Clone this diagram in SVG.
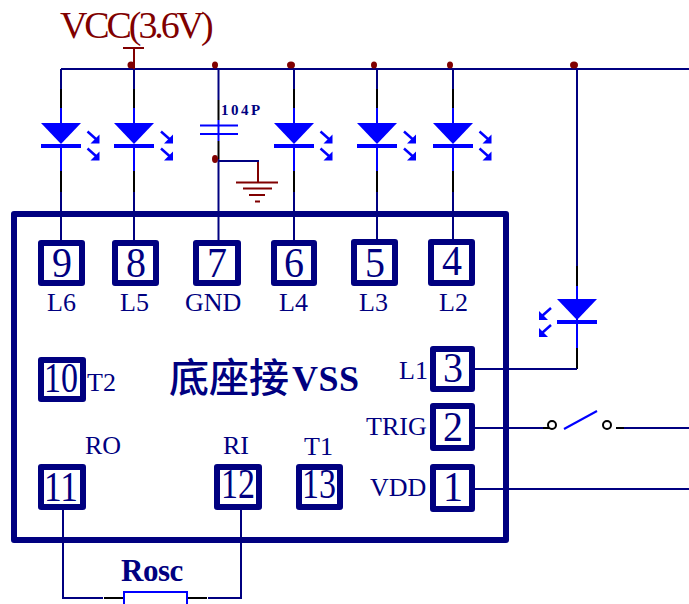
<svg xmlns="http://www.w3.org/2000/svg" xmlns:xlink="http://www.w3.org/1999/xlink" width="689" height="604" viewBox="0 0 689 604">
<style>
text{font-family:"Liberation Serif","Times New Roman",serif;fill:#000080}
.w{fill:none;stroke:#000080;stroke-width:2}
.k{fill:none;stroke:#000;stroke-width:2}
.b{fill:none;stroke:#0000ff;stroke-width:2}
.r{fill:none;stroke:#800000;stroke-width:2}
.box{fill:#fff;stroke:#000080;stroke-width:6;stroke-linejoin:round}
.num{font-size:42px;text-anchor:start}
.lab{font-size:26px}
.dot{fill:#800000}
</style>
<defs>
<g id="led">
<path d="M0,0V20" class="w"/><path d="M0,20V39" class="k"/><path d="M0,39V54" class="b"/>
<path d="M-20,54H20L0,75Z" fill="#0000ff"/>
<rect x="-20" y="75" width="40" height="4" fill="#0000ff"/>
<path d="M0,76V102" class="b"/><path d="M0,102V123" class="k"/><path d="M0,123V171" class="w"/>
</g>
<g id="arr">
<path d="M0,0L9,8" fill="none" stroke="#0000ff" stroke-width="2.500"/>
<path d="M12,3V12H3Z" fill="#0000ff"/>
</g>
</defs>
<g id="connectors">
<path d="M61,69H689" class="w"/>
<use xlink:href="#led" href="#led" x="61" y="69"/>
<use xlink:href="#led" href="#led" x="134" y="69"/>
<use xlink:href="#led" href="#led" x="294" y="69"/>
<use xlink:href="#led" href="#led" x="377" y="69"/>
<use xlink:href="#led" href="#led" x="453" y="69"/>
<path d="M218.500,69V100" class="w"/><path d="M218.500,100V120" class="k"/><path d="M218.500,120V141" class="b"/><path d="M218.500,141V159" class="k"/><path d="M218.500,159V240" class="w"/>
<path d="M218,161H258V163" class="w"/>
<path d="M577,69V266" class="w"/><path d="M577,266V286" class="k"/><path d="M577,286V348" class="b"/><path d="M577,348V369" class="k"/>
<path d="M475,369H577" class="w"/>
<path d="M475,428H543" class="w"/><path d="M543,428H549" class="k"/><path d="M616,428H624" class="k"/><path d="M624,428H689" class="w"/>
<path d="M475,489H689" class="w"/>
<path d="M63,510V598H103" class="w"/><path d="M104,598H124" class="k"/><path d="M187,598H207" class="k"/><path d="M208,598H241V510" class="w"/>
</g>
<g id="chip">
<rect x="14" y="214" width="492" height="326" fill="none" stroke="#000080" stroke-width="6" stroke-linejoin="round"/>
<text x="169" y="392" font-size="40" font-weight="500" style="font-family:'Noto Sans CJK SC',sans-serif">底座接</text>
<text x="292" y="391" font-size="36" font-weight="bold" letter-spacing="0.500">VSS</text>
</g>
<g id="pin9"><rect x="41" y="243" width="41" height="40" class="box"/><text x="52" y="277" class="num" textLength="20" lengthAdjust="spacingAndGlyphs">9</text><text x="47" y="311" class="lab">L6</text></g>
<g id="pin8"><rect x="115" y="243" width="41" height="40" class="box"/><text x="126" y="277" class="num" textLength="20" lengthAdjust="spacingAndGlyphs">8</text><text x="120" y="311" class="lab">L5</text></g>
<g id="pin7"><rect x="196" y="243" width="42" height="40" class="box"/><text x="207" y="277" class="num" textLength="20" lengthAdjust="spacingAndGlyphs">7</text><text x="185" y="311" class="lab">GND</text></g>
<g id="pin6"><rect x="274" y="243" width="40" height="40" class="box"/><text x="284" y="277" class="num" textLength="20" lengthAdjust="spacingAndGlyphs">6</text><text x="279" y="311" class="lab">L4</text></g>
<g id="pin5"><rect x="354" y="242" width="41" height="41" class="box"/><text x="365" y="277" class="num" textLength="20" lengthAdjust="spacingAndGlyphs">5</text><text x="359" y="311" class="lab">L3</text></g>
<g id="pin4"><rect x="431" y="242" width="41" height="41" class="box"/><text x="442" y="275" class="num" textLength="20" lengthAdjust="spacingAndGlyphs">4</text><text x="439" y="311" class="lab">L2</text></g>
<g id="pin3"><rect x="433" y="349" width="39" height="40" class="box"/><text x="443" y="382" class="num" textLength="20" lengthAdjust="spacingAndGlyphs">3</text><text x="399" y="379" class="lab">L1</text></g>
<g id="pin2"><rect x="433" y="406" width="39" height="42" class="box"/><text x="443" y="441" class="num" textLength="20" lengthAdjust="spacingAndGlyphs">2</text><text x="366" y="435" class="lab">TRIG</text></g>
<g id="pin1"><rect x="433" y="467" width="39" height="42" class="box"/><text x="443" y="501" class="num" textLength="20" lengthAdjust="spacingAndGlyphs">1</text><text x="370" y="496" class="lab">VDD</text></g>
<g id="pin10"><rect x="41" y="360" width="42" height="39" class="box"/><text x="44" y="392" class="num" textLength="34" lengthAdjust="spacingAndGlyphs">10</text><text x="87" y="391" class="lab">T2</text></g>
<g id="pin11"><rect x="41" y="467" width="42" height="40" class="box"/><text x="44" y="501" class="num" textLength="34" lengthAdjust="spacingAndGlyphs">11</text><text x="85" y="454" class="lab">RO</text></g>
<g id="pin12"><rect x="217" y="467" width="42" height="40" class="box"/><text x="221" y="498" class="num" textLength="34" lengthAdjust="spacingAndGlyphs">12</text><text x="223" y="454" class="lab">RI</text></g>
<g id="pin13"><rect x="299" y="467" width="41" height="40" class="box"/><text x="302" y="498" class="num" textLength="34" lengthAdjust="spacingAndGlyphs">13</text><text x="304" y="455" class="lab">T1</text></g>
<g id="vcc">
<path d="M123,48H144M134,48V69" class="r"/>
<text x="60" y="38" font-size="38" letter-spacing="-3.100" style="fill:#800000">VCC(3.6V)</text>
<ellipse cx="131" cy="65" rx="3.500" ry="3.500" class="dot"/>
<ellipse cx="215" cy="65" rx="3" ry="3.500" class="dot"/>
<ellipse cx="291" cy="65" rx="4" ry="3.500" class="dot"/>
<ellipse cx="374" cy="65" rx="3" ry="3.500" class="dot"/>
<ellipse cx="450" cy="65" rx="3" ry="3.500" class="dot"/>
<ellipse cx="574" cy="65" rx="4" ry="3.500" class="dot"/>
</g>
<g id="led-arrows">
<use xlink:href="#arr" href="#arr" x="87.500" y="131.500"/><use xlink:href="#arr" href="#arr" x="87.500" y="148.500"/>
<use xlink:href="#arr" href="#arr" x="161" y="131.500"/><use xlink:href="#arr" href="#arr" x="161" y="148.500"/>
<use xlink:href="#arr" href="#arr" x="320.500" y="131.500"/><use xlink:href="#arr" href="#arr" x="320.500" y="148.500"/>
<use xlink:href="#arr" href="#arr" x="404" y="131.500"/><use xlink:href="#arr" href="#arr" x="404" y="148.500"/>
<use xlink:href="#arr" href="#arr" x="479.500" y="131.500"/><use xlink:href="#arr" href="#arr" x="479.500" y="148.500"/>
</g>
<g id="capacitor">
<path d="M200,125.500H238M200,134H238" class="b"/>
<text x="221" y="115" font-size="15" font-weight="bold" letter-spacing="2.500">104P</text>
<ellipse cx="215" cy="159" rx="3" ry="4" class="dot"/>
</g>
<g id="ground">
<path d="M258,162V182M236,182.500H278M243,188.500H272M249,195H265M255,201.500H260" class="r"/>
</g>
<g id="led-l1">
<path d="M557,299H597L577,320Z" fill="#0000ff"/>
<rect x="557" y="320" width="40" height="4" fill="#0000ff"/>
<use xlink:href="#arr" href="#arr" transform="translate(551,308) scale(-1,1)"/>
<use xlink:href="#arr" href="#arr" transform="translate(551,325) scale(-1,1)"/>
</g>
<g id="switch">
<circle cx="552" cy="425" r="4" fill="#fff" stroke="#000" stroke-width="2"/>
<circle cx="607" cy="425" r="4" fill="#fff" stroke="#000" stroke-width="2"/>
<path d="M564,429L597,411" class="b"/>
</g>
<g id="rosc">
<rect x="124" y="592" width="63" height="20" fill="#fff" stroke="#0000ff" stroke-width="2"/>
<text x="121" y="581" font-size="31" font-weight="bold" letter-spacing="-0.500">Rosc</text>
</g>
</svg>
